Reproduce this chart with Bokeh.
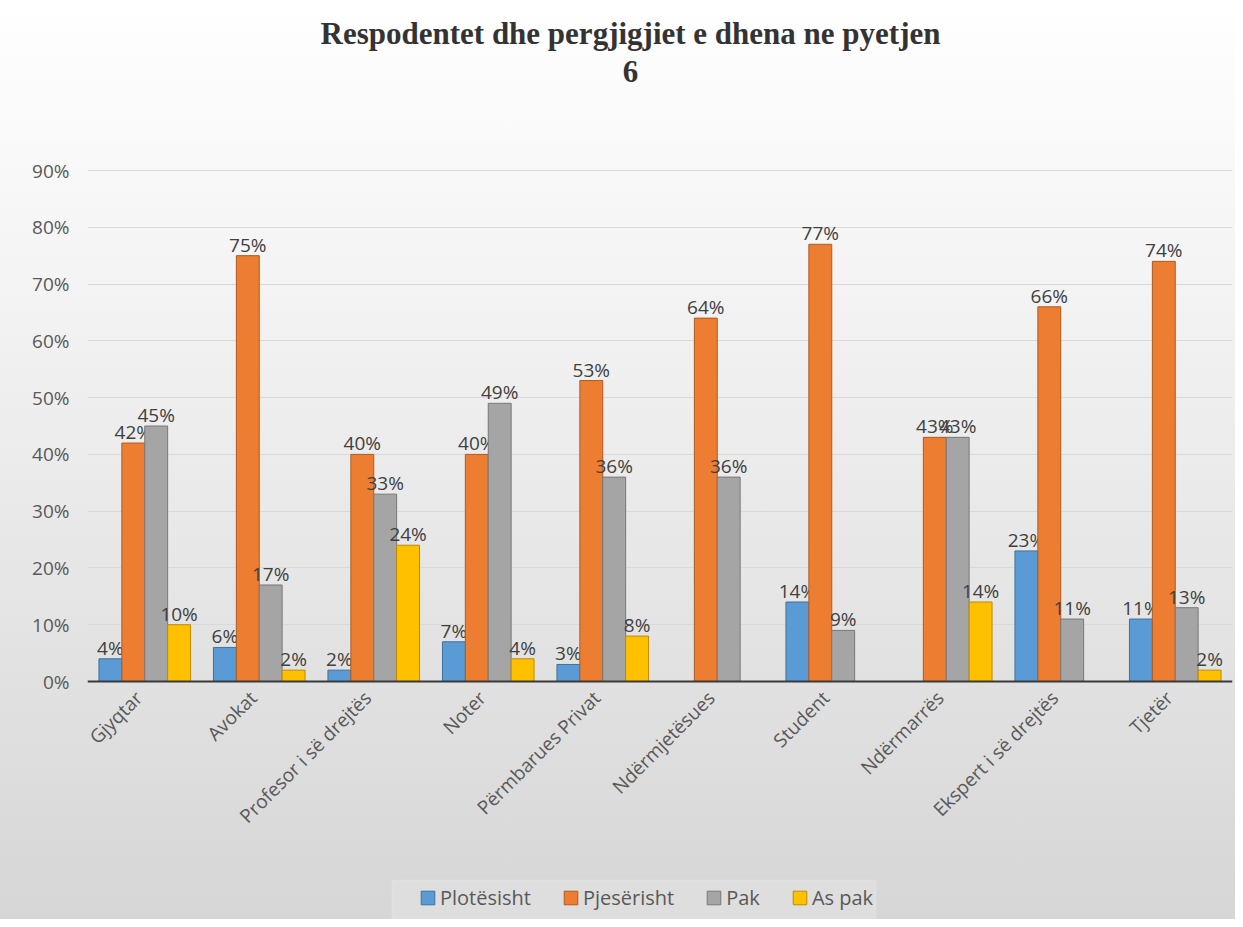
from bokeh.plotting import figure
from bokeh.models import (ColumnDataSource, FactorRange, Range1d, FixedTicker,
                          PrintfTickFormatter, Legend, LegendItem, Label, Span,
                          BoxAnnotation)
from bokeh.transform import dodge
from bokeh.core.properties import value
from bokeh.embed import file_html
from bokeh.resources import INLINE
import math

categories = ["Gjyqtar", "Avokat", "Profesor i së drejtës", "Noter", "Përmbarues Privat",
              "Ndërmjetësues", "Student", "Ndërmarrës", "Ekspert i së drejtës", "Tjetër"]
series_names = ["Plotësisht", "Pjesërisht", "Pak", "As pak"]
plotesisht = [4, 6, 2, 7, 3, 0, 14, 0, 23, 11]
pjeserisht = [42, 75, 40, 40, 53, 64, 77, 43, 66, 74]
pak = [45, 17, 33, 49, 36, 36, 9, 43, 11, 13]
as_pak = [10, 2, 24, 4, 8, 0, 0, 14, 0, 2]
y_ticks = [0, 10, 20, 30, 40, 50, 60, 70, 80, 90]
title_lines = ["Respodentet dhe pergjigjiet e dhena ne pyetjen", "6"]

colors = ["#5b9bd5", "#ed7d31", "#a5a5a5", "#ffc000"]
edges = ["#41719c", "#ae5a21", "#787878", "#bc8c00"]
offsets = [-0.3, -0.1, 0.1, 0.3]
series_vals = [plotesisht, pjeserisht, pak, as_pak]

FONT = "Open Sans"
TXT = "#595959"

# layout geometry (pixels): figure height, y of the 0% and 90% lines
H = 919
LEFT = 87
Y0_PX, Y90_PX = 681, 170
ppu = (Y0_PX - Y90_PX) / 90.0
y_lo = -(H - Y0_PX) / ppu
y_hi = 90 + Y90_PX / ppu

p = figure(x_range=FactorRange(factors=categories, range_padding=0),
           y_range=Range1d(y_lo, y_hi),
           width=1235, height=H, output_backend="svg", toolbar_location=None,
           min_border_left=LEFT, min_border_right=3, min_border_top=0,
           min_border_bottom=0, x_axis_location=None)
p.styles = {"background": "linear-gradient(to bottom, #ffffff 0%, #f4f4f4 30%, #d6d6d6 100%)"}
p.border_fill_alpha = 0
p.background_fill_alpha = 0
p.outline_line_color = None

# titles (screen units relative to the plot frame bottom-left)
for txt, ty in zip(title_lines, [H - 33, H - 71]):
    p.add_layout(Label(x=630 - LEFT, y=ty, x_units="screen", y_units="screen", text=txt,
                       text_align="center", text_baseline="middle",
                       text_font="Liberation Serif", text_font_size="31px",
                       text_font_style="bold", text_color="#333333"))

p.add_layout(Span(location=0, dimension="width", line_color="#3a3a3a", line_width=2))

items = []
for name, vals, off, c, e in zip(series_names, series_vals, offsets, colors, edges):
    src = ColumnDataSource(dict(cat=categories, val=vals,
                                lab=[f"{v}%" if v > 0 else "" for v in vals]))
    r = p.vbar(x=dodge("cat", off, range=p.x_range), top="val", width=0.2, source=src,
               fill_color=c, line_color=e, line_width=1)
    p.text(x=dodge("cat", off, range=p.x_range), y="val", text="lab", source=src,
           text_align="center", text_baseline="bottom", y_offset=2,
           text_font=value(FONT), text_font_size="19px", text_color="#404040")
    items.append(LegendItem(label=name, renderers=[r]))

# category labels, rotated 45 degrees, ending at each category under the axis
cat_src = ColumnDataSource(dict(cat=categories, y=[0] * len(categories)))
p.text(x="cat", y="y", text="cat", source=cat_src, angle=math.pi / 4,
       text_align="right", text_baseline="middle", x_offset=-6, y_offset=13,
       text_font=value(FONT), text_font_size="19px", text_color=TXT)

# legend box and legend
p.add_layout(BoxAnnotation(left=392 - LEFT, right=875 - LEFT, bottom=-5, top=H - 880,
                           left_units="screen", right_units="screen",
                           bottom_units="screen", top_units="screen",
                           fill_color="#dedede", fill_alpha=1,
                           line_color="#ebebeb", line_width=2))
legend = Legend(items=items, orientation="horizontal", location=(419 - LEFT, 8),
                label_text_font=FONT, label_text_font_size="20px",
                label_text_color=TXT, glyph_width=17, glyph_height=17,
                spacing=31, label_standoff=4, padding=0, margin=0,
                background_fill_alpha=0, border_line_color=None)
p.add_layout(legend)

p.yaxis.ticker = FixedTicker(ticks=y_ticks)
p.ygrid.ticker = FixedTicker(ticks=y_ticks)
p.yaxis.formatter = PrintfTickFormatter(format="%d%%")
p.yaxis.axis_line_color = None
p.yaxis.major_tick_line_color = None
p.yaxis.minor_tick_line_color = None
p.yaxis.major_label_text_font = FONT
p.yaxis.major_label_text_font_size = "19px"
p.yaxis.major_label_text_color = TXT
p.yaxis.major_label_standoff = 12

p.xgrid.grid_line_color = None
p.ygrid.grid_line_color = "#d9d9d9"
p.ygrid.grid_line_width = 1

open("out.html", "w").write(file_html(p, INLINE))
